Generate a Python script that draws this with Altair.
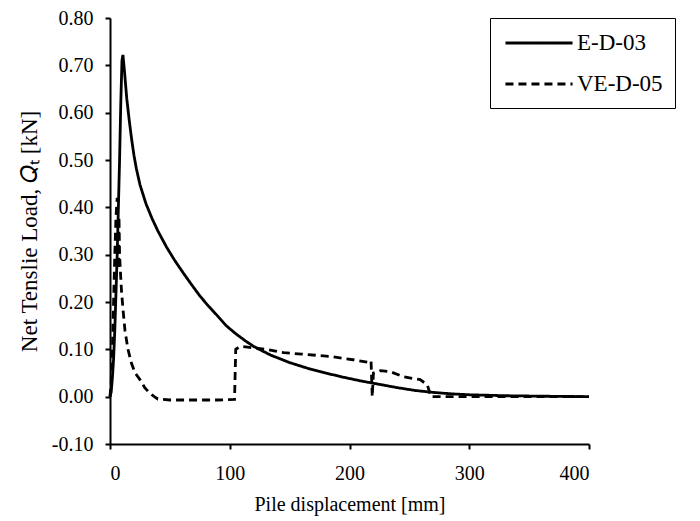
import altair as alt
import pandas as pd

# E-D-03 (solid)
ed_x = [0, 1, 2, 3, 4, 5, 6, 7, 8, 9, 10, 10.8, 12, 14, 16, 18, 20, 22, 25, 30, 35, 40, 47, 54,
        61, 68, 75, 82, 90, 97, 105, 113, 120, 134, 150, 165, 180, 195, 210, 225, 240, 255, 270,
        285, 300, 330, 360, 400]
ed_y = [0.0, 0.01, 0.04, 0.08, 0.14, 0.22, 0.30, 0.40, 0.50, 0.62, 0.71, 0.722, 0.69, 0.63, 0.585,
        0.545, 0.51, 0.482, 0.448, 0.408, 0.377, 0.35, 0.317, 0.288, 0.262, 0.237, 0.213, 0.192,
        0.170, 0.150, 0.133, 0.118, 0.106, 0.088, 0.072, 0.060, 0.050, 0.041, 0.033, 0.026, 0.019,
        0.013, 0.009, 0.006, 0.004, 0.002, 0.001, 0.0]

# VE-D-05 (dashed)
ve_x = [0, 1, 2, 3, 4, 5, 6, 6.5, 7, 7.5, 8, 9, 9.7, 11, 12.5, 15, 18, 21, 25, 29, 33, 37, 40, 50,
        60, 70, 80, 90, 104, 105, 108, 111, 130, 145, 160, 184, 203, 217, 218, 219, 220, 226, 234,
        245, 259, 265, 268, 280, 350, 400]
ve_y = [0.0, 0.03, 0.10, 0.20, 0.30, 0.38, 0.42, 0.35, 0.27, 0.38, 0.30, 0.25, 0.22, 0.18, 0.14,
        0.10, 0.07, 0.05, 0.036, 0.019, 0.008, 0.0, -0.005, -0.007, -0.007, -0.007, -0.007, -0.007,
        -0.006, 0.10, 0.105, 0.106, 0.10, 0.093, 0.09, 0.085, 0.078, 0.072, 0.075, 0.0, 0.05, 0.055,
        0.053, 0.042, 0.036, 0.025, 0.0, 0.0, 0.0, 0.0]

series_names = ["E-D-03", "VE-D-05"]
x_ticks = [0, 100, 200, 300, 400]
y_ticks = [-0.1, 0.0, 0.1, 0.2, 0.3, 0.4, 0.5, 0.6, 0.7, 0.8]

rows = []
for i, (x, y) in enumerate(zip(ed_x, ed_y)):
    rows.append({"series": series_names[0], "x": x, "y": y, "order": i})
for i, (x, y) in enumerate(zip(ve_x, ve_y)):
    rows.append({"series": series_names[1], "x": x, "y": y, "order": i})
df = pd.DataFrame(rows)

FONT = "Liberation Serif"

chart = alt.Chart(df).mark_line(strokeWidth=2.8, color="black").encode(
    x=alt.X("x:Q", scale=alt.Scale(domain=[0, 400], nice=False),
            axis=alt.Axis(values=x_ticks, title="Pile displacement [mm]", grid=False,
                          labelPadding=14, titlePadding=11, labelFontSize=20)),
    y=alt.Y("y:Q", scale=alt.Scale(domain=[-0.1, 0.8], nice=False, zero=False),
            axis=alt.Axis(values=y_ticks, title="Net Tenslie Load, 𝑄ₜ [kN]", grid=False,
                          labelExpr="(datum.value < 0 ? '-' : '') + format(abs(datum.value), '.2f')",
                          labelPadding=12, titlePadding=10, labelFontSize=20, titleFontSize=23)),
    strokeDash=alt.StrokeDash("series:N",
                              scale=alt.Scale(domain=series_names, range=[[1, 0], [8, 5]]),
                              legend=alt.Legend(title=None, orient="none", legendX=380, legendY=0,
                                                strokeColor="black", padding=12,
                                                symbolType="M-3,0H3", symbolSize=500,
                                                symbolOffset=24, symbolStrokeWidth=2.8,
                                                symbolStrokeColor="black",
                                                labelFont=FONT, labelFontSize=23, labelColor="black",
                                                labelOffset=25, rowPadding=16)),
    detail="series:N",
    order="order:Q",
).properties(
    width=479, height=426,
    autosize=alt.AutoSizeParams(type="none"),
    padding={"left": 102, "top": 10, "right": 103, "bottom": 76},
).configure_view(stroke=None).configure_axis(
    domainColor="black", domainWidth=2, tickColor="black", tickWidth=2, tickSize=5,
    labelFont=FONT, labelColor="black",
    titleFont=FONT, titleFontSize=20, titleColor="black", titleFontWeight="normal",
)

chart.save("out.html", embed_options={"renderer": "svg", "actions": False})
